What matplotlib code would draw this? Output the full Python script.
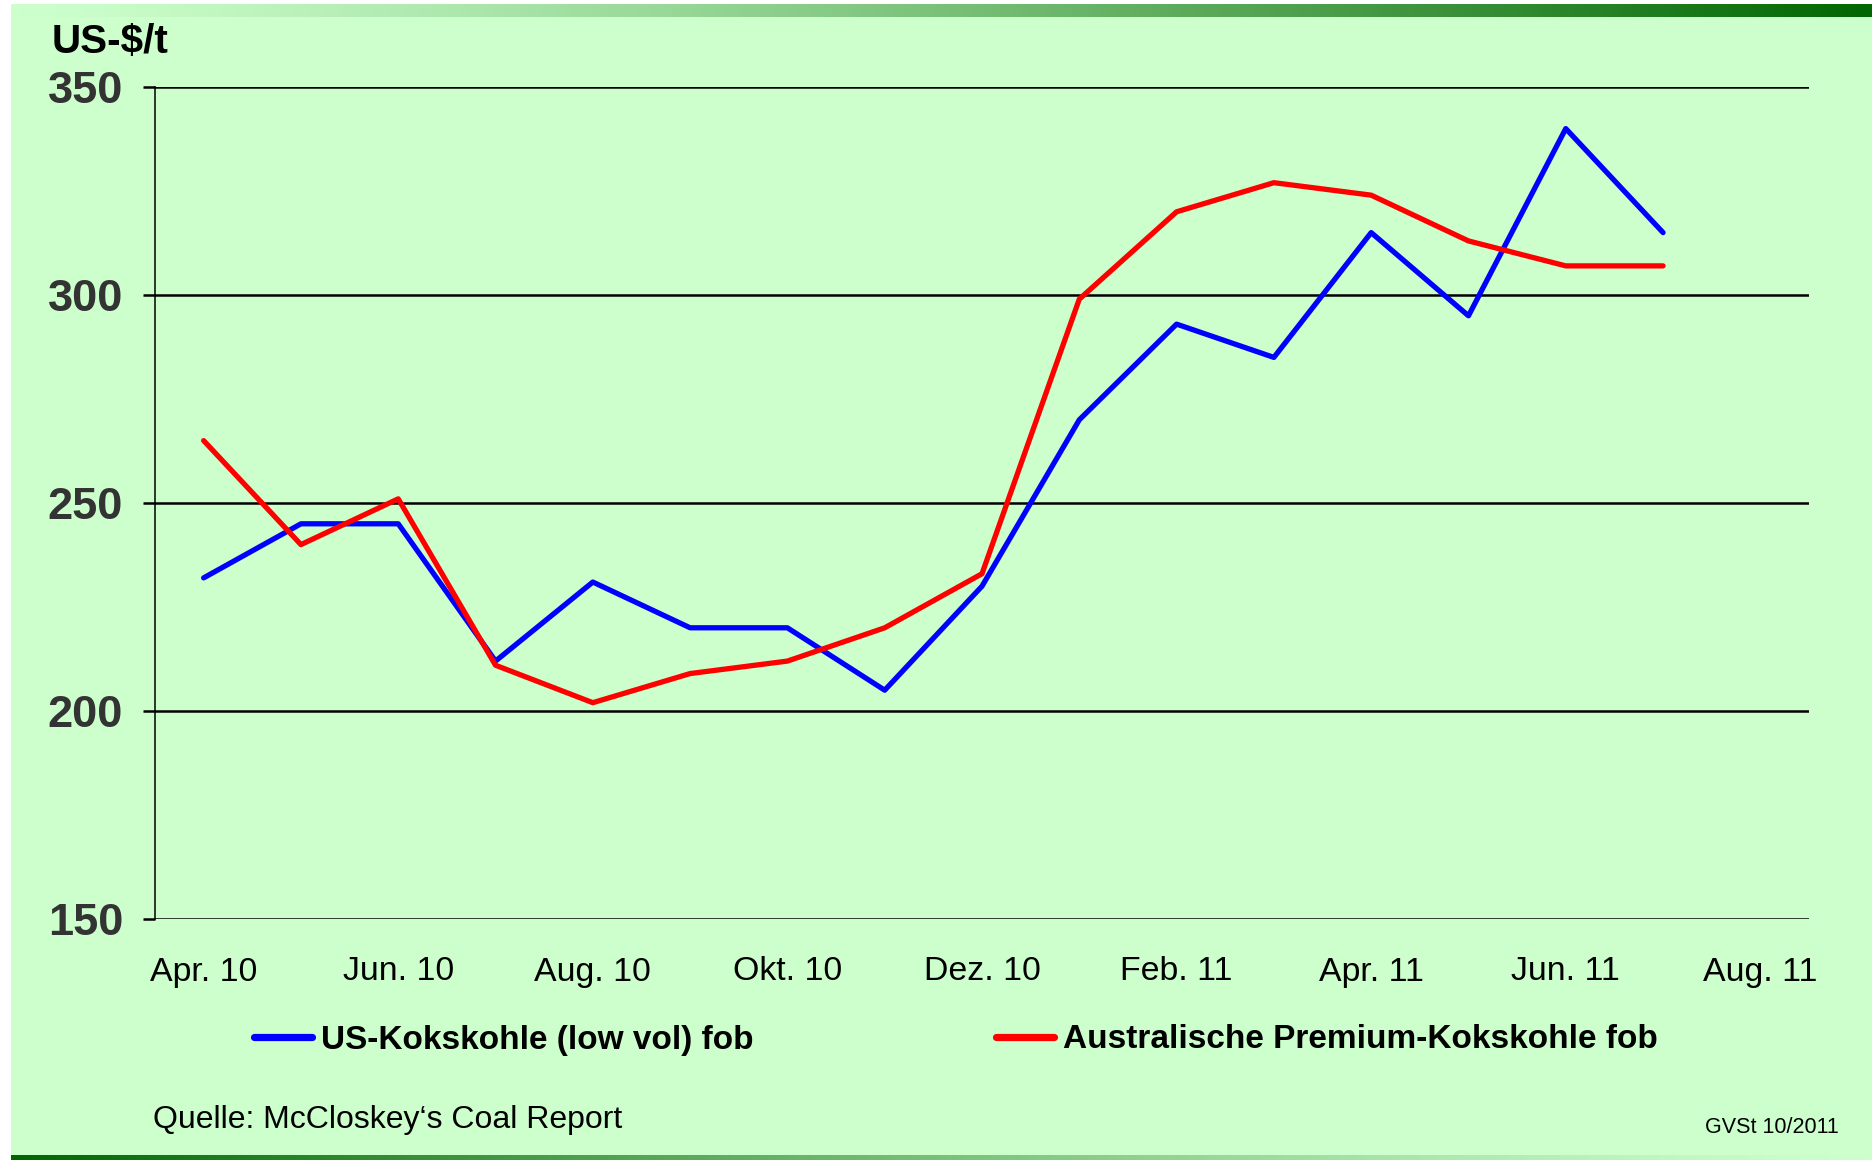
import numpy as np
import matplotlib
matplotlib.use("Agg")
import matplotlib.pyplot as plt

plt.rcParams['font.family'] = ['Liberation Sans', 'DejaVu Sans']

months = ["Apr. 10", "Mai 10", "Jun. 10", "Jul. 10", "Aug. 10", "Sep. 10",
          "Okt. 10", "Nov. 10", "Dez. 10", "Jan. 11", "Feb. 11", "Mär. 11",
          "Apr. 11", "Mai 11", "Jun. 11", "Jul. 11", "Aug. 11"]
us_koks = [232, 245, 245, 212, 231, 220, 220, 205, 230, 270, 293, 285,
           315, 295, 340, 315]
aus_koks = [265, 240, 251, 211, 202, 209, 212, 220, 233, 299, 320, 327,
            324, 313, 307, 307]
series_names = ["US-Kokskohle (low vol) fob", "Australische Premium-Kokskohle fob"]
series_colors = ["#0000ff", "#ff0000"]
y_ticks = [150, 200, 250, 300, 350]

W, H = 1872, 1160
fig = plt.figure(figsize=(W / 100, H / 100), dpi=100)

# background: white frame, light green slide, gradient bands top and bottom
bg = fig.add_axes([0, 0, 1, 1])
bg.set_xlim(0, W)
bg.set_ylim(H, 0)
bg.axis("off")
bg.add_patch(plt.Rectangle((11, 4), W - 11, H - 4, color="#ccffcc", lw=0))
light = np.array([0.80, 1.0, 0.80])
dark = np.array([0.0, 0.40, 0.0])
t = np.linspace(0, 1, 256)[None, :, None] ** 1.3
grad = light + (dark - light) * t
bg.imshow(grad, extent=(11, W, 17, 4), aspect="auto", zorder=2)
bg.imshow(grad[:, ::-1], extent=(11, W, H, 1155), aspect="auto", zorder=2)
bg.set_xlim(0, W)
bg.set_ylim(H, 0)

ax = fig.add_axes([155 / W, 1 - 919 / H, (1809 - 155) / W, (919 - 87) / H])
ax.set_facecolor("none")

x = np.arange(len(months))
ax.plot(x[:len(us_koks)], us_koks, color=series_colors[0], lw=3.8,
        solid_capstyle="round", solid_joinstyle="round", label=series_names[0], zorder=3)
ax.plot(x[:len(aus_koks)], aus_koks, color=series_colors[1], lw=3.8,
        solid_capstyle="round", solid_joinstyle="round", label=series_names[1], zorder=4)

ax.set_xlim(-0.5, len(months) - 0.5)
ax.set_ylim(150, 350)
ax.set_xticks(x[::2])
ax.set_xticklabels(months[::2], fontsize=24.4)
ax.tick_params(axis="x", length=0, pad=27)
ax.set_yticks(y_ticks)
ax.set_yticklabels([str(v) for v in y_ticks], fontsize=32.5, fontweight="bold", color="#333333")
ax.tick_params(axis="y", length=9, width=1.8, pad=14)
ax.yaxis.grid(True, color="black", lw=1.8)
ax.set_axisbelow(True)
for s in ["top", "right", "bottom"]:
    ax.spines[s].set_visible(False)
ax.spines["left"].set_linewidth(1.1)

leg = ax.legend(loc="center left", bbox_to_anchor=(254 / W, 1 - 1040 / H),
                bbox_transform=fig.transFigure, ncol=2, frameon=False,
                borderpad=0, borderaxespad=0, handlelength=1.75, handletextpad=0.27,
                columnspacing=7.25, prop={"size": 24, "weight": "bold"})
for ln in leg.get_lines():
    ln.set_linewidth(5.2)
    ln.set_solid_capstyle("round")

fig.text(52 / W, 1 - 53 / H, "US-$/t", fontsize=29.2, fontweight="bold", va="baseline")
fig.text(153 / W, 1 - 1128 / H, "Quelle: McCloskey\u2018s Coal Report", fontsize=23, va="baseline")
fig.text(1839 / W, 1 - 1133 / H, "GVSt 10/2011", fontsize=15.5, va="baseline", ha="right")

fig.savefig("out.png", dpi=100)
